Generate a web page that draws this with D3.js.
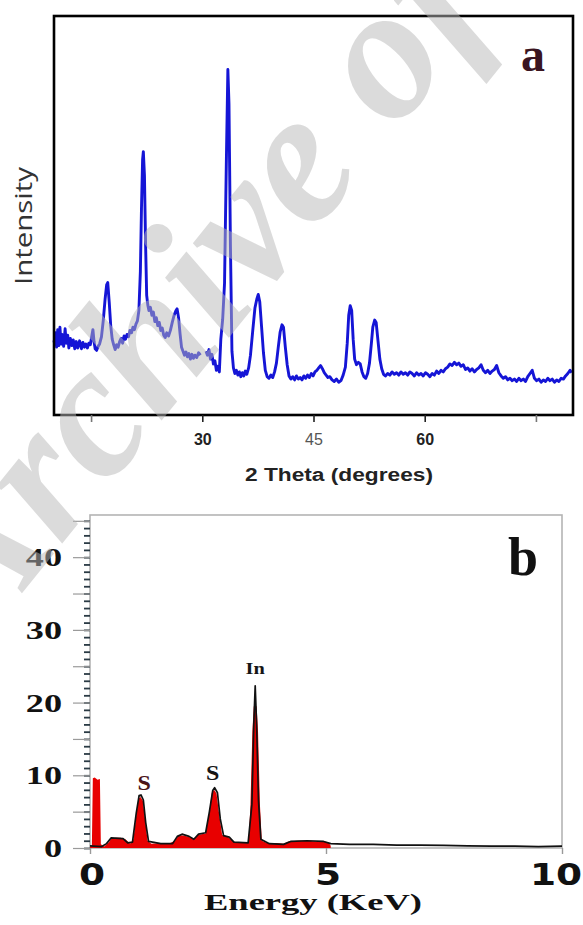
<!DOCTYPE html>
<html>
<head>
<meta charset="utf-8">
<script src="https://cdn.jsdelivr.net/npm/d3@7"></script>
<style>
    body { margin: 0; background: #fff; }
    svg { display: block; }
</style>
</head>
<body>
<svg id="chart" width="583" height="925"></svg>
<script>
// ---- panel a : XRD pattern (2 theta, intensity a.u.) ----
const xrdAngle = [
    10.0, 10.2, 10.35, 10.5, 10.65, 10.8, 10.95, 11.1, 11.3, 11.5, 11.65, 11.85, 12.0, 12.2, 12.4, 12.6,
    12.8, 13.0, 13.2, 13.45, 13.7, 13.9, 14.1, 14.3, 14.5, 14.7, 14.9, 15.1, 15.25, 15.4, 15.55, 15.75,
    15.95, 16.15, 16.4, 16.65, 16.9, 17.1, 17.25, 17.45, 17.65, 17.85, 18.05, 18.25, 18.45, 18.65, 18.85,
    19.05, 19.25, 19.45, 19.65, 19.85, 20.05, 20.25, 20.45, 20.65, 20.85, 21.05, 21.25, 21.45, 21.65,
    21.8, 21.95, 22.05, 22.2, 22.35, 22.5, 22.65, 22.8, 23.0, 23.2, 23.4, 23.6, 23.8, 24.0, 24.2, 24.4,
    24.6, 24.8, 25.0, 25.2, 25.45, 25.7, 25.95, 26.2, 26.45, 26.6, 26.8, 27.0, 27.2, 27.4, 27.6, 27.8,
    28.0, 28.2, 28.4, 28.6, 28.8, 29.0, 29.25, 29.5, 29.75, 30.1,
    30.5, 30.7, 30.9, 31.1, 31.3, 31.5, 31.7, 31.9, 32.1, 32.3, 32.5, 32.75, 33.0, 33.25, 33.45, 33.6,
    33.8, 34.0, 34.2, 34.4, 34.6, 34.8, 35.0, 35.2, 35.4, 35.6, 35.8, 36.0, 36.25, 36.5, 36.8, 37.1,
    37.35, 37.55, 37.75, 38.0, 38.25, 38.5, 38.75, 39.0, 39.25, 39.5, 39.75, 40.0, 40.25, 40.5, 40.75,
    40.95, 41.2, 41.45, 41.7, 41.95, 42.2, 42.45, 42.7, 42.95, 43.2, 43.45, 43.7, 43.95, 44.2, 44.45,
    44.7, 44.95, 45.2, 45.45, 45.7, 45.95, 46.2, 46.45, 46.7, 46.95, 47.2, 47.5, 47.8, 48.1, 48.4, 48.7,
    49.0, 49.3, 49.55, 49.75, 49.95, 50.15, 50.35, 50.55, 50.8, 51.05, 51.3, 51.55, 51.8, 52.05, 52.3,
    52.55, 52.8, 53.0, 53.25, 53.45, 53.7, 53.95, 54.2, 54.45, 54.7, 55.0, 55.3, 55.6, 55.9, 56.2, 56.5,
    56.8, 57.1, 57.4, 57.7, 58.0, 58.3, 58.6, 58.9, 59.2, 59.5, 59.8, 60.1, 60.4, 60.7, 61.0, 61.3, 61.6,
    61.9, 62.2, 62.5, 62.8, 63.1, 63.4, 63.7, 64.0, 64.3, 64.6, 64.9, 65.2, 65.5, 65.8, 66.1, 66.4, 66.7,
    67.0, 67.3, 67.6, 67.9, 68.2, 68.5, 68.8, 69.1, 69.4, 69.7, 70.0, 70.3, 70.6, 70.9, 71.2, 71.5, 71.8,
    72.1, 72.4, 72.7, 73.0, 73.3, 73.6, 73.9, 74.2, 74.5, 74.8, 75.1, 75.4, 75.7, 76.0, 76.3, 76.6, 76.9,
    77.2, 77.5, 77.8, 78.1, 78.4, 78.7, 79.0, 79.3, 79.6, 79.8
];
const xrdIntensity = [
    182, 206, 170, 214, 174, 220, 178, 202, 172, 216, 180, 200, 168, 192, 174, 188,
    166, 184, 168, 186, 166, 182, 170, 178, 168, 180, 176, 198, 214, 184, 166, 162,
    172, 178, 196, 238, 292, 326, 332, 282, 224, 190, 176, 164, 176, 170, 184,
    192, 180, 198, 190, 202, 196, 212, 206, 220, 214, 228, 236, 262, 360,
    520, 640, 660, 600, 430, 300, 276, 262, 270, 250, 258, 234, 244, 224, 232, 212,
    218, 200, 194, 206, 198, 212, 232, 250, 262, 266, 244, 204, 170, 160, 150, 158,
    146, 154, 140, 152, 142, 150, 144, 156, 150, null,
    160, 150, 164, 140, 152, 128, 136, 112, 122, 108, 190, 240, 330, 640, 866, 780,
    420, 160, 118, 104, 112, 100, 108, 96, 106, 98, 110, 102, 118, 150, 210, 268,
    290, 302, 284, 220, 156, 112, 96, 92, 100, 94, 108, 130, 170, 208, 226,
    220, 170, 126, 98, 90, 96, 88, 98, 90, 94, 88, 98, 92, 100, 94,
    104, 98, 108, 112, 118, 124, 116, 106, 100, 94, 96, 88, 84, 90, 82, 86,
    100, 120, 180, 250, 274, 262, 190, 140, 126, 132, 128, 108, 96, 92, 104,
    130, 178, 220, 238, 232, 186, 140, 116, 102, 98, 104, 100, 108, 102, 106, 100,
    108, 102, 106, 100, 108, 104, 98, 106, 100, 104, 98, 106, 102, 96, 104, 100, 110,
    104, 112, 108, 116, 120, 128, 124, 132, 126, 130, 122, 126, 114, 118, 110, 116, 108,
    114, 118, 126, 112, 106, 112, 104, 110, 114, 124, 106, 98, 92, 96, 88, 92, 86,
    90, 84, 92, 86, 90, 84, 96, 104, 112, 92, 86, 90, 82, 88, 84, 92, 86,
    90, 82, 88, 84, 92, 90, 98, 104, 112, 106
];
const xrdTicks = [15, 30, 45, 60, 75];
const xrdTickLabels = ['', '30', '45', '60', ''];

// ---- panel b : EDX spectrum (energy keV, counts) ----
const edxFillEnergy = [
    0.0, 0.04, 0.06, 0.1, 0.16, 0.21, 0.23, 0.3, 0.4, 0.45, 0.55, 0.65, 0.75, 0.85, 0.92, 0.98, 1.03,
    1.07, 1.12, 1.17, 1.22, 1.3, 1.5, 1.7, 1.8, 1.88, 2.0, 2.1, 2.2, 2.28, 2.36, 2.45, 2.52, 2.58, 2.63,
    2.68, 2.74, 2.8, 2.9, 2.98, 3.1, 3.3, 3.36, 3.4, 3.44, 3.47, 3.53, 3.56, 3.6, 3.64, 3.75, 3.95,
    4.1, 4.2, 4.4, 4.6, 4.8, 4.95, 5.05, 5.1
];
const edxFillCounts = [
    0.2, 0.3, 9.6, 9.7, 9.4, 9.5, 0.5, 0.2, 0.8, 1.3, 1.4, 1.4, 1.2, 0.6, 1.2, 4.5, 6.8,
    7.0, 6.5, 3.8, 1.0, 0.6, 0.7, 0.7, 1.0, 1.8, 1.7, 1.5, 1.3, 1.8, 1.9, 2.0, 4.5, 7.6, 8.0,
    7.5, 4.5, 1.8, 1.6, 1.2, 0.7, 0.7, 0.8, 6.0, 16.0, 19.5, 19.5, 16.0, 6.0, 1.0, 0.7, 0.7,
    0.6, 0.9, 1.0, 1.0, 0.9, 0.9, 0.8, 0.3
];
const edxTraceEnergy = [
    0.0, 0.25, 0.35, 0.45, 0.7, 0.8, 0.9, 0.98, 1.04, 1.08, 1.13, 1.18, 1.24, 1.5, 1.75, 1.85, 1.95,
    2.1, 2.2, 2.3, 2.45, 2.53, 2.6, 2.64, 2.7, 2.76, 2.83, 2.95, 3.05, 3.35, 3.43, 3.47, 3.5, 3.53,
    3.57, 3.62, 3.8, 4.1, 4.25, 4.6, 4.95, 5.1, 5.5, 6.0, 6.5, 7.0, 7.5, 8.0, 8.5, 9.0, 9.5, 10.0
];
const edxTraceCounts = [
    0.3, 0.2, 0.6, 1.4, 1.3, 0.7, 0.8, 4.8, 7.2, 7.3, 6.6, 3.5, 0.9, 0.6, 0.6, 1.6, 1.9,
    1.6, 1.2, 1.9, 2.1, 5.0, 7.9, 8.3, 7.6, 4.0, 1.7, 1.5, 0.8, 0.7, 6.0, 17.0, 22.3, 17.0,
    6.5, 1.2, 0.6, 0.5, 0.9, 1.0, 0.9, 0.6, 0.5, 0.5, 0.4, 0.4, 0.35, 0.3, 0.25, 0.25, 0.2, 0.25
];
const edxYLabels = [0, 10, 20, 30, 40];
const edxXLabels = [0, 5, 10];
const edxPeakNames = ['S', 'S', 'In'];
const edxPeakEnergy = [1.15, 2.6, 3.5];
const edxPeakLabelCounts = [8.0, 9.4, 24.0];

const svg = d3.select('#chart');

// helper for the horizontally stretched lettering of the scan
const stretchText = (g, { x, y, text, size, family, weight = 'bold', sx = 1, anchor = 'middle', fill = '#000' }) =>
    g
        .append('text')
        .attr('transform', `translate(${x},${y}) scale(${sx},1)`)
        .attr('text-anchor', anchor)
        .attr('font-family', family)
        .attr('font-size', size)
        .attr('font-weight', weight)
        .attr('fill', fill)
        .text(text);

/* ---------------- panel a ---------------- */
const gA = svg.append('g');
const xA = d3.scaleLinear().domain([10, 80]).range([54, 573]);
const yA = d3.scaleLinear().domain([0, 1000]).range([415, 16]);

const xrdData = xrdAngle.map((a, i) => [a, xrdIntensity[i]]);
const xrdLine = d3
    .line()
    .defined((d) => d[1] !== null)
    .x((d) => xA(d[0]))
    .y((d) => yA(d[1]));

gA.append('path')
    .datum(xrdData)
    .attr('d', xrdLine)
    .attr('fill', 'none')
    .attr('stroke', '#1515d6')
    .attr('stroke-width', 2.9)
    .attr('stroke-linejoin', 'round');

gA.append('rect')
    .attr('x', xA.range()[0])
    .attr('y', yA.range()[1])
    .attr('width', xA.range()[1] - xA.range()[0])
    .attr('height', yA.range()[0] - yA.range()[1])
    .attr('fill', 'none')
    .attr('stroke', '#000')
    .attr('stroke-width', 2.6);

const axA = gA
    .append('g')
    .attr('transform', `translate(0,${yA.range()[0]})`)
    .call(d3.axisBottom(xA).tickValues(xrdTicks).tickSize(7).tickFormat((d, i) => xrdTickLabels[i]));
axA.select('.domain').remove();
axA.selectAll('.tick line')
    .attr('stroke', (d, i) => (xrdTickLabels[i] ? '#222' : '#777'))
    .attr('stroke-width', 1.6);
axA.selectAll('.tick text')
    .attr('y', 19)
    .attr('font-family', 'Liberation Sans, Arial, sans-serif')
    .attr('font-size', 16)
    .attr('font-weight', (d) => (d === 45 ? 'normal' : 'bold'))
    .attr('fill', (d) => (d === 45 ? '#555' : '#222'));

gA.append('text')
    .attr('x', 339)
    .attr('y', 481)
    .attr('text-anchor', 'middle')
    .attr('font-family', 'Liberation Sans, Arial, sans-serif')
    .attr('font-weight', 'bold')
    .attr('font-size', 18)
    .attr('textLength', 188)
    .attr('lengthAdjust', 'spacingAndGlyphs')
    .attr('fill', '#222')
    .text('2 Theta (degrees)');

gA.append('text')
    .attr('transform', 'translate(32,226) rotate(-90)')
    .attr('text-anchor', 'middle')
    .attr('font-family', 'Open Sans, sans-serif')
    .attr('font-size', 23)
    .attr('textLength', 118)
    .attr('lengthAdjust', 'spacingAndGlyphs')
    .attr('fill', '#333')
    .text('Intensity');

stretchText(gA, { x: 533, y: 71, text: 'a', size: 48, family: 'Liberation Serif, serif', fill: '#3a1420' });

/* ---------------- panel b ---------------- */
const gB = svg.append('g');
const xB = d3.scaleLinear().domain([0, 10]).range([90, 562]);
const yB = d3.scaleLinear().domain([0, 45.8]).range([848, 515]);

gB.append('rect')
    .attr('x', xB.range()[0])
    .attr('y', yB.range()[1])
    .attr('width', xB.range()[1] - xB.range()[0])
    .attr('height', yB.range()[0] - yB.range()[1])
    .attr('fill', 'none')
    .attr('stroke', '#b4b4b4')
    .attr('stroke-width', 1.6);

// minor and major ticks of the counts axis
const minorB = gB
    .append('g')
    .attr('transform', `translate(${xB.range()[0]},0)`)
    .call(d3.axisLeft(yB).tickValues(d3.range(0, 46, 1)).tickSize(6).tickFormat(''));
minorB.select('.domain').remove();
minorB.selectAll('.tick line').attr('stroke', '#2a3a44').attr('stroke-width', 1.8);

const majorB = gB
    .append('g')
    .attr('transform', `translate(${xB.range()[0]},0)`)
    .call(d3.axisLeft(yB).tickValues(d3.range(0, 46, 5)).tickSize(17).tickFormat(''));
majorB.select('.domain').remove();
majorB.selectAll('.tick line').attr('stroke', '#9a9a9a').attr('stroke-width', 1.2);

const xTicksB = gB
    .append('g')
    .attr('transform', `translate(0,${yB.range()[0]})`)
    .call(d3.axisBottom(xB).tickValues(edxXLabels).tickSize(6).tickFormat(''));
xTicksB.select('.domain').remove();
xTicksB.selectAll('.tick line').attr('stroke', '#999').attr('stroke-width', 1.4);

const edxFill = edxFillEnergy.map((e, i) => [e, edxFillCounts[i]]);
const edxTrace = edxTraceEnergy.map((e, i) => [e, edxTraceCounts[i]]);

gB.append('path')
    .datum(edxFill)
    .attr('d', d3.area().x((d) => xB(d[0])).y0(yB(0)).y1((d) => yB(d[1])))
    .attr('fill', '#e80000');

gB.append('path')
    .datum(edxTrace)
    .attr('d', d3.line().x((d) => xB(d[0])).y((d) => yB(d[1])))
    .attr('fill', 'none')
    .attr('stroke', '#111')
    .attr('stroke-width', 1.7)
    .attr('stroke-linejoin', 'round');

edxYLabels.forEach((v) => {
    stretchText(gB, { x: 62, y: yB(v) + 9, text: v, size: 25, family: 'Liberation Serif, serif', sx: 1.45, anchor: 'end', fill: '#111' });
});
edxXLabels.forEach((v) => {
    stretchText(gB, { x: xB(v) + (v === 10 ? -6 : 2), y: 885, text: v, size: 30, family: 'DejaVu Sans, sans-serif', sx: 1.25, fill: '#111' });
});

edxPeakNames.forEach((name, i) => {
    stretchText(gB, {
        x: xB(edxPeakEnergy[i]),
        y: yB(edxPeakLabelCounts[i]),
        text: name,
        size: name === 'In' ? 17 : 20,
        family: 'Liberation Serif, serif',
        sx: 1.2,
        fill: i === 0 ? '#4a1418' : '#151515'
    });
});

gB.append('text')
    .attr('x', 313)
    .attr('y', 910)
    .attr('text-anchor', 'middle')
    .attr('font-family', 'Liberation Serif, serif')
    .attr('font-weight', 'bold')
    .attr('font-size', 23)
    .attr('textLength', 218)
    .attr('lengthAdjust', 'spacingAndGlyphs')
    .attr('fill', '#111')
    .text('Energy (KeV)');

stretchText(gB, { x: 523, y: 575, text: 'b', size: 54, family: 'Liberation Serif, serif', fill: '#111' });

/* ---------------- watermark over both panels ---------------- */
svg.append('text')
    .attr('transform', 'translate(-20,645) rotate(-51)')
    .attr('font-family', 'Liberation Serif, serif')
    .attr('font-weight', 'bold')
    .attr('font-style', 'italic')
    .attr('font-size', 190)
    .attr('fill', '#b8b8b8')
    .attr('opacity', 0.5)
    .text('Archive of SID');
</script>
</body>
</html>
